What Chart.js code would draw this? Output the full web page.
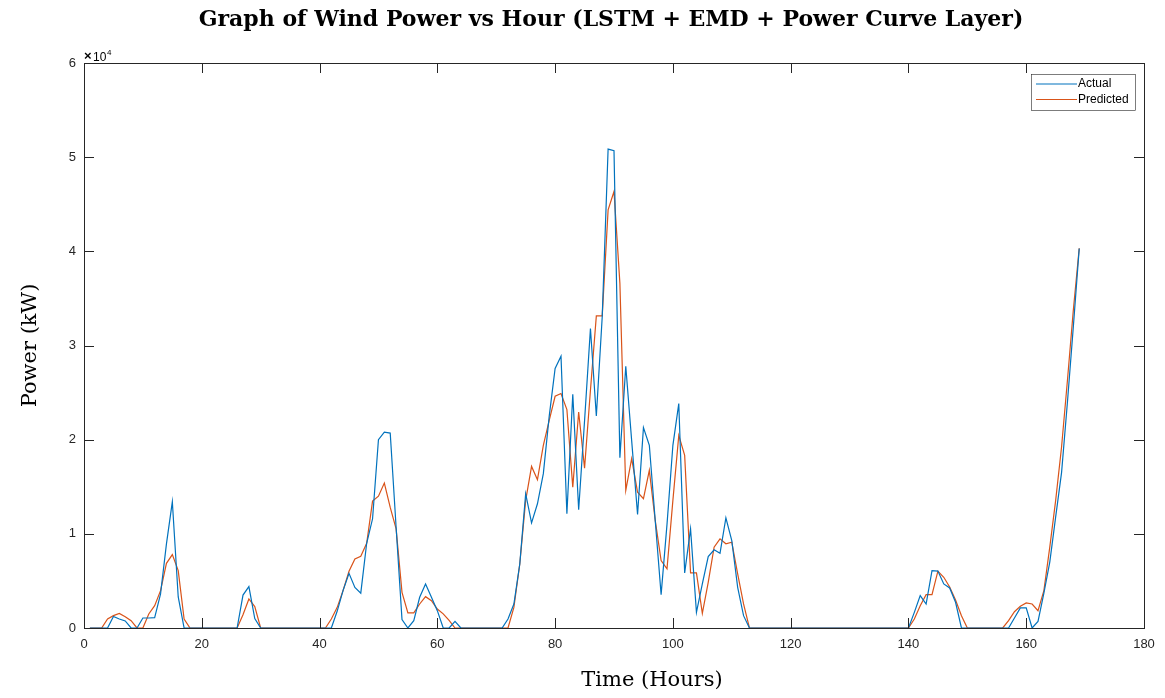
<!DOCTYPE html>
<html>
<head>
<meta charset="utf-8">
<title>Wind Power vs Hour</title>
<script src="https://cdn.jsdelivr.net/npm/chart.js@4.4.1/dist/chart.umd.min.js"></script>
<style>
  html, body { margin: 0; padding: 0; background: #fff; }
  #wrap { width: 1165px; height: 698px; }
</style>
</head>
<body>
<div id="wrap"><canvas id="powerChart" width="1165" height="698"></canvas></div>
<script>
// Werte (kW), Stunde 1..169
var actual = [
    0, 0, 0, 0, 1230, 960, 745, 0, 0,
    1060, 1060, 1100, 3620, 8940, 13400, 3300, 0,
    0, 0, 0, 0, 0, 0, 0, 0, 0,
    3500, 4400, 1000,
    0, 0, 0, 0, 0, 0, 0, 0, 0, 0, 0, 0, 0,
    1800, 4000, 5800, 4300, 3700, 9000, 11600, 20000, 20800, 20700, 10700, 900, 0, 770, 3260, 4680, 3260, 1840, 0, 0, 710,
    0, 0, 0, 0, 0, 0, 0, 0,
    960, 2550, 6800, 14260, 11170, 13190, 16390, 22500, 27560, 28870,
    12130, 24820, 12550, 22000, 31810, 22520, 33050, 50860, 50680, 18090,
    27800, 19900, 12060, 21280, 19400, 11420, 3540, 11000, 19400, 23830,
    5850, 10530, 1660, 4680, 7590, 8300, 7940, 11700, 9290, 4320, 1310, 0,
    0, 0, 0, 0, 0, 0, 0, 0, 0, 0, 0, 0, 0, 0, 0, 0, 0, 0, 0, 0, 0, 0, 0, 0, 0, 0, 0,
    1660, 3440, 2550, 6100, 6040, 4680, 4250, 2730,
    0, 0, 0, 0, 0, 0, 0, 0, 0,
    1060, 2130, 2130, 0, 700, 3700, 7000, 11800, 16500, 24000, 32000, 40300
];
var predicted = [
    0, 0, 0,
    960, 1310, 1550, 1200, 780, 0, 0, 1490, 2370, 3970, 6870, 7800, 6100, 960, 0,
    0, 0, 0, 0, 0, 0, 0, 0,
    1400, 3085, 2270,
    0, 0, 0, 0, 0, 0, 0, 0, 0, 0, 0, 0,
    960, 2190, 4000, 6020, 7340, 7620, 9000, 13470, 14000, 15390,
    12800, 10530, 3790, 1600, 1600, 2550, 3330, 2900, 2020, 1500, 800, 0,
    0, 0, 0, 0, 0, 0, 0, 0, 0,
    2190, 6800, 13550, 17160, 15750, 19400, 22060, 24610, 24900, 23200,
    14960, 22940, 16980, 25250, 33150, 33150, 44400, 46350, 36600, 14610,
    17980, 14430, 13730, 16740, 11420, 7160, 6280, 13550, 20460, 18330,
    5850, 5850, 1550, 4850, 8580, 9470, 8940, 9110, 5750, 2550, 0,
    0, 0, 0, 0, 0, 0, 0, 0, 0, 0, 0, 0, 0, 0, 0, 0, 0, 0, 0, 0, 0, 0, 0, 0, 0, 0, 0,
    960, 2370, 3540, 3540, 6040, 5390, 4350, 2980, 1310,
    0, 0, 0, 0, 0, 0, 0,
    780, 1730, 2300, 2660, 2550, 1840, 3970, 8580, 13550, 19220, 26310, 33760, 40330
];
var seriesNames = ['Actual', 'Predicted'];
var seriesColors = ['#0072BD', '#D95319'];
var xTicks = [0, 20, 40, 60, 80, 100, 120, 140, 160, 180];
var yTicks = [0, 10000, 20000, 30000, 40000, 50000, 60000];
var chartTitle = 'Graph of Wind Power vs Hour (LSTM + EMD + Power Curve Layer)';
var xLabel = 'Time (Hours)';

// Stunden 1..n als x-Werte
var hours = [];
for (var i = 0; i < actual.length; i++) {
    hours.push(i + 1);
}

function toPoints(values) {
    return values.map(function(v, i) { return { x: hours[i], y: v }; });
}

var axisColor = '#262626';
var serifFont = '"DejaVu Serif", serif';
var sansFont = '"Liberation Sans", Arial, sans-serif';

// Rahmen, Ticks nach innen, Titel, Exponent, x-Beschriftung und Legende im MATLAB-Stil
var matlabAxes = {
    id: 'matlabAxes',
    afterDraw: function(chart) {
        var ctx = chart.ctx;
        var a = chart.chartArea;
        var xs = chart.scales.x;
        var ys = chart.scales.y;
        var len = 10;
        ctx.save();
        ctx.strokeStyle = axisColor;
        ctx.lineWidth = 1;
        ctx.strokeRect(Math.round(a.left) + 0.5, Math.round(a.top) + 0.5,
            Math.round(a.right - a.left), Math.round(a.bottom - a.top));

        ctx.beginPath();
        xTicks.forEach(function(t) {
            var px = Math.round(xs.getPixelForValue(t)) + 0.5;
            ctx.moveTo(px, a.bottom);
            ctx.lineTo(px, a.bottom - len);
            ctx.moveTo(px, a.top);
            ctx.lineTo(px, a.top + len);
        });
        yTicks.forEach(function(t) {
            var py = Math.round(ys.getPixelForValue(t)) + 0.5;
            ctx.moveTo(a.left, py);
            ctx.lineTo(a.left + len, py);
            ctx.moveTo(a.right, py);
            ctx.lineTo(a.right - len, py);
        });
        ctx.stroke();

        // Titel
        ctx.fillStyle = '#000';
        ctx.textAlign = 'center';
        ctx.textBaseline = 'middle';
        ctx.font = 'bold 22px ' + serifFont;
        ctx.fillText(chartTitle, 611, 20);

        // x10^4 oben links
        ctx.textBaseline = 'alphabetic';
        ctx.textAlign = 'left';
        ctx.font = 'bold 13px ' + sansFont;
        ctx.fillText('\u00d7', a.left, a.top - 3);
        ctx.font = '12px ' + sansFont;
        ctx.fillText('10', a.left + 9, a.top - 2);
        ctx.font = '8px ' + sansFont;
        ctx.fillText('4', a.left + 23, a.top - 8);

        // x-Achsenbeschriftung (im Original leicht nach rechts versetzt)
        ctx.font = '21px ' + serifFont;
        ctx.textAlign = 'center';
        ctx.textBaseline = 'middle';
        ctx.fillText(xLabel, 652, 681);

        // Legende
        var lx = a.right - 113, ly = a.top + 11, lw = 104, lh = 36;
        ctx.textAlign = 'left';
        ctx.fillStyle = '#fff';
        ctx.fillRect(lx, ly, lw, lh);
        ctx.strokeStyle = axisColor;
        ctx.lineWidth = 0.6;
        ctx.strokeRect(lx + 0.5, ly + 0.5, lw, lh);
        ctx.font = '12px ' + sansFont;
        seriesNames.forEach(function(name, i) {
            var yy = ly + 10 + i * 15.5;
            ctx.strokeStyle = seriesColors[i];
            ctx.lineWidth = 1.2;
            ctx.beginPath();
            ctx.moveTo(lx + 5, yy);
            ctx.lineTo(lx + 46, yy);
            ctx.stroke();
            ctx.fillStyle = '#000';
            ctx.fillText(name, lx + 47, yy);
        });
        ctx.restore();
    }
};

var ctx = document.getElementById('powerChart').getContext('2d');
new Chart(ctx, {
    type: 'line',
    data: {
        datasets: [{
            label: seriesNames[0],
            data: toPoints(actual),
            borderColor: seriesColors[0],
            borderWidth: 1.2,
            pointRadius: 0,
            tension: 0,
            fill: false
        }, {
            label: seriesNames[1],
            data: toPoints(predicted),
            borderColor: seriesColors[1],
            borderWidth: 1.2,
            pointRadius: 0,
            tension: 0,
            fill: false
        }]
    },
    options: {
        responsive: false,
        devicePixelRatio: 1,
        animation: false,
        layout: { padding: { left: 0, right: 21, top: 63, bottom: 0 } },
        plugins: {
            legend: { display: false },
            tooltip: { enabled: false },
            title: { display: false }
        },
        scales: {
            x: {
                type: 'linear',
                min: 0,
                max: 180,
                afterFit: function(scale) { scale.height = 70; },
                afterBuildTicks: function(scale) {
                    scale.ticks = xTicks.map(function(v) { return { value: v }; });
                },
                grid: { display: false, drawTicks: false },
                border: { display: false },
                ticks: {
                    color: axisColor,
                    padding: 9,
                    maxRotation: 0,
                    font: { family: sansFont, size: 13 }
                },
                title: { display: false }
            },
            y: {
                min: 0,
                max: 60000,
                afterFit: function(scale) { scale.width = 84; },
                afterBuildTicks: function(scale) {
                    scale.ticks = yTicks.map(function(v) { return { value: v }; });
                },
                grid: { display: false, drawTicks: false },
                border: { display: false },
                ticks: {
                    color: axisColor,
                    padding: 8,
                    font: { family: sansFont, size: 13 },
                    callback: function(v) { return v / 10000; }
                },
                title: {
                    display: true,
                    text: 'Power (kW)',
                    color: '#000',
                    font: { family: serifFont, size: 21, lineHeight: 1.2 },
                    padding: { top: 18, bottom: 0 }
                }
            }
        }
    },
    plugins: [matlabAxes]
});
</script>
</body>
</html>
